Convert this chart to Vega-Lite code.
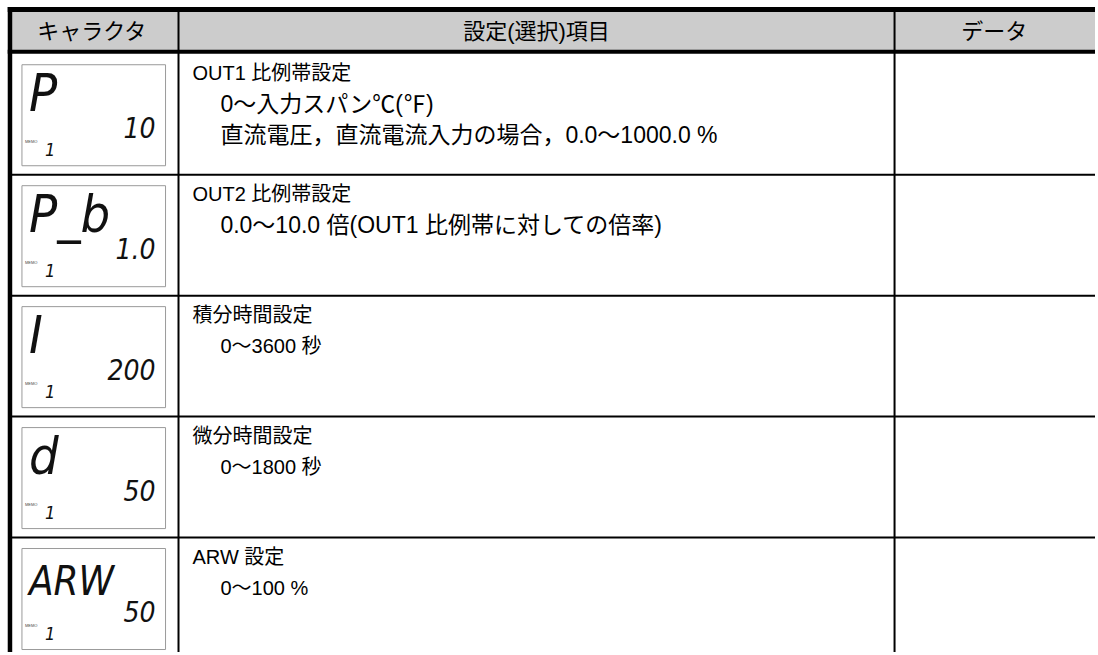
{
  "$schema": "https://vega.github.io/schema/vega-lite/v6.json",
  "width": 1098,
  "height": 655,
  "autosize": {"type": "fit", "contains": "padding"},
  "padding": 0,
  "background": "white",
  "config": {"view": {"stroke": null}, "text": {"font": "Liberation Sans, Noto Sans CJK JP", "color": "#000000"}},
  "datasets": {
    "rows": [
      {"row": 0, "char": "P", "val": "10", "memo": "MEMO", "num": "1", "l1": "OUT1 比例帯設定", "l2": "0～入力スパン℃(℉)", "l3": "直流電圧，直流電流入力の場合，0.0～1000.0 %"},
      {"row": 1, "char": "P_b", "val": "1.0", "memo": "MEMO", "num": "1", "l1": "OUT2 比例帯設定", "l2": "0.0～10.0 倍(OUT1 比例帯に対しての倍率)", "l3": ""},
      {"row": 2, "char": "I", "val": "200", "memo": "MEMO", "num": "1", "l1": "積分時間設定", "l2": "0～3600 秒", "l3": ""},
      {"row": 3, "char": "d", "val": "50", "memo": "MEMO", "num": "1", "l1": "微分時間設定", "l2": "0～1800 秒", "l3": ""},
      {"row": 4, "char": "ARW", "val": "50", "memo": "MEMO", "num": "1", "l1": "ARW 設定", "l2": "0～100 %", "l3": ""}
    ],
    "one": [{"k": 1}]
  },
  "data": {"name": "rows"},
  "layer": [
    {
      "data": {"name": "one"},
      "mark": {"type": "rect", "fill": "#cccccc"},
      "encoding": {
        "x": {"datum": 10, "type": "quantitative", "scale": {"domain": [0, 1098], "nice": false, "zero": false}, "axis": null},
        "x2": {"datum": 1098},
        "y": {"datum": -0.3663, "type": "quantitative", "scale": {"domain": [-0.4444, 4.9465], "reverse": true, "nice": false, "zero": false}, "axis": null},
        "y2": {"datum": -0.0165}
      }
    },
    {
      "mark": {"type": "rect", "fill": "white", "stroke": "#9a9a9a", "strokeWidth": 1, "yOffset": 11, "y2Offset": 112},
      "encoding": {
        "x": {"datum": 22, "type": "quantitative"},
        "x2": {"datum": 166},
        "y": {"field": "row", "type": "quantitative"},
        "y2": {"field": "row"}
      }
    },
    {
      "transform": [{"filter": "datum.row > 0"}],
      "mark": {"type": "rule", "color": "black", "strokeWidth": 2},
      "encoding": {
        "x": {"datum": 10, "type": "quantitative"},
        "x2": {"datum": 1098},
        "y": {"field": "row", "type": "quantitative"}
      }
    },
    {
      "data": {"name": "one"},
      "mark": {"type": "rule", "color": "black", "strokeWidth": 2},
      "encoding": {
        "x": {"datum": 179, "type": "quantitative"},
        "y": {"datum": -0.3663, "type": "quantitative"},
        "y2": {"datum": 4.9465}
      }
    },
    {
      "data": {"name": "one"},
      "mark": {"type": "rule", "color": "black", "strokeWidth": 2},
      "encoding": {
        "x": {"datum": 897, "type": "quantitative"},
        "y": {"datum": -0.3663, "type": "quantitative"},
        "y2": {"datum": 4.9465}
      }
    },
    {
      "data": {"name": "one"},
      "mark": {"type": "rule", "color": "black", "strokeWidth": 4.5},
      "encoding": {
        "x": {"datum": 10, "type": "quantitative"},
        "y": {"datum": -0.3868, "type": "quantitative"},
        "y2": {"datum": 4.9465}
      }
    },
    {
      "data": {"name": "one"},
      "mark": {"type": "rule", "color": "black", "strokeWidth": 5},
      "encoding": {
        "x": {"datum": 7.75, "type": "quantitative"},
        "x2": {"datum": 1098},
        "y": {"datum": -0.3663, "type": "quantitative"}
      }
    },
    {
      "data": {"name": "one"},
      "mark": {"type": "rule", "color": "black", "strokeWidth": 4},
      "encoding": {
        "x": {"datum": 7.75, "type": "quantitative"},
        "x2": {"datum": 1098},
        "y": {"datum": -0.0165, "type": "quantitative"}
      }
    },
    {
      "data": {"values": [{"h": "キャラクタ"}]},
      "mark": {"type": "text", "fontSize": 22, "align": "center", "baseline": "middle"},
      "encoding": {
        "x": {"datum": 92, "type": "quantitative"},
        "y": {"datum": -0.181, "type": "quantitative"},
        "text": {"field": "h"}
      }
    },
    {
      "data": {"values": [{"h": "設定(選択)項目"}]},
      "mark": {"type": "text", "fontSize": 22, "align": "center", "baseline": "middle"},
      "encoding": {
        "x": {"datum": 538, "type": "quantitative"},
        "y": {"datum": -0.181, "type": "quantitative"},
        "text": {"field": "h"}
      }
    },
    {
      "data": {"values": [{"h": "データ"}]},
      "mark": {"type": "text", "fontSize": 22, "align": "center", "baseline": "middle"},
      "encoding": {
        "x": {"datum": 997, "type": "quantitative"},
        "y": {"datum": -0.181, "type": "quantitative"},
        "text": {"field": "h"}
      }
    },
    {
      "mark": {"type": "text", "fontSize": 20, "align": "left", "baseline": "middle", "dy": 20},
      "encoding": {"x": {"datum": 193, "type": "quantitative"}, "y": {"field": "row", "type": "quantitative"}, "text": {"field": "l1"}}
    },
    {
      "mark": {"type": "text", "align": "left", "baseline": "middle", "dy": 51},
      "encoding": {
        "x": {"datum": 221, "type": "quantitative"},
        "y": {"field": "row", "type": "quantitative"},
        "text": {"field": "l2"},
        "size": {"condition": {"test": "datum.row < 2", "value": 23}, "value": 20}
      }
    },
    {
      "mark": {"type": "text", "fontSize": 23, "align": "left", "baseline": "middle", "dy": 82},
      "encoding": {"x": {"datum": 221, "type": "quantitative"}, "y": {"field": "row", "type": "quantitative"}, "text": {"field": "l3"}}
    },
    {
      "mark": {"type": "text", "font": "Liberation Sans Narrow, DejaVu Sans Condensed, Roboto", "fontStyle": "italic", "align": "left", "baseline": "alphabetic", "dy": 57, "color": "#111111"},
      "encoding": {
        "x": {"datum": 29, "type": "quantitative"},
        "y": {"field": "row", "type": "quantitative"},
        "text": {"field": "char"},
        "size": {"condition": {"test": "datum.row == 4", "value": 40}, "value": 52}
      }
    },
    {
      "mark": {"type": "text", "font": "Liberation Sans Narrow, DejaVu Sans Condensed, Roboto", "fontStyle": "italic", "fontSize": 28, "align": "right", "baseline": "alphabetic", "dy": 84, "color": "#111111"},
      "encoding": {"x": {"datum": 156, "type": "quantitative"}, "y": {"field": "row", "type": "quantitative"}, "text": {"field": "val"}}
    },
    {
      "mark": {"type": "text", "fontSize": 4, "align": "left", "baseline": "alphabetic", "dy": 89, "color": "#444444"},
      "encoding": {"x": {"datum": 25, "type": "quantitative"}, "y": {"field": "row", "type": "quantitative"}, "text": {"field": "memo"}}
    },
    {
      "mark": {"type": "text", "font": "Liberation Sans Narrow, DejaVu Sans Condensed, Roboto", "fontStyle": "italic", "fontSize": 18, "align": "left", "baseline": "alphabetic", "dy": 102, "color": "#111111"},
      "encoding": {"x": {"datum": 45, "type": "quantitative"}, "y": {"field": "row", "type": "quantitative"}, "text": {"field": "num"}}
    }
  ]
}
